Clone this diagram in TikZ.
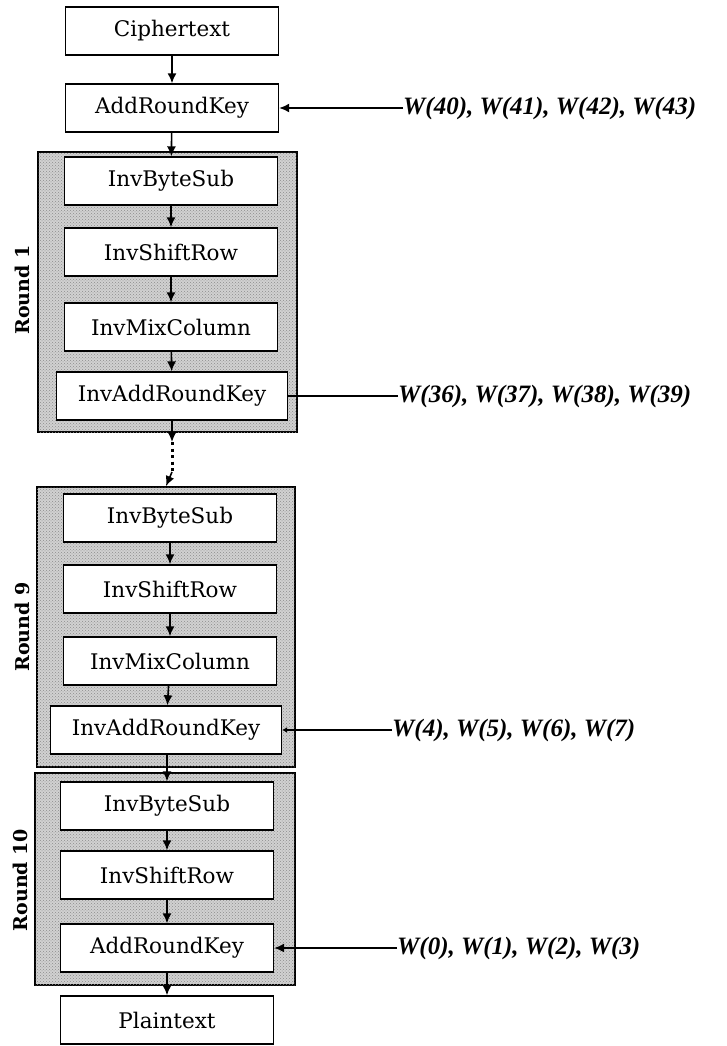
\documentclass[tikz,border=0pt]{standalone}
\usepackage{fontspec}
\newfontfamily\keyfont{Liberation Serif}
\newfontfamily\stagefont{DejaVu Serif}
\usetikzlibrary{arrows.meta, positioning, backgrounds, patterns}

\begin{document}
\begin{tikzpicture}[
    x=1pt, y=-1pt,
    >={Latex[length=10pt, width=9pt]},
    stage/.style={
        draw=black, line width=1.4pt, fill=white,
        minimum width=213pt, minimum height=48pt,
        inner sep=0pt, font=\stagefont\fontsize{21.5}{25}\selectfont
    },
    widestage/.style={
        stage, minimum width=231pt
    },
    roundbox/.style={
        draw=black, line width=1.8pt, fill=black!18,
        postaction={pattern=crosshatch dots, pattern color=black!45},
        inner sep=0pt
    },
    roundlabel/.style={
        rotate=90, font=\stagefont\fontsize{19}{22}\selectfont\bfseries
    },
    keylabel/.style={
        anchor=west, inner sep=0pt,
        font=\keyfont\fontsize{25}{28}\selectfont\bfseries\itshape
    },
    flow/.style={->, line width=1.6pt},
    keyline/.style={line width=1.6pt},
]
\useasboundingbox (0,0) rectangle (727,1046);

% ===================================================================
% INITIAL KEY ADDITION
% ===================================================================
\node[stage] (cipher) at (172,31) {Ciphertext};
\node[stage] (ark0) at (172,108) {AddRoundKey};
\node[keylabel] (key0) at (403,108) {W(40), W(41), W(42), W(43)};

% ===================================================================
% ROUND 1
% ===================================================================
\node[stage] (bs1) at (171,181) {InvByteSub};
\node[stage] (sr1) at (171,252) {InvShiftRow};
\node[stage] (mc1) at (171,327) {InvMixColumn};
\node[widestage] (ark1) at (172,396) {InvAddRoundKey};
\node[keylabel] (key1) at (398,396) {W(36), W(37), W(38), W(39)};
\begin{scope}[on background layer]
    \node[roundbox, minimum width=259pt, minimum height=280pt] (round1) at (167.5,292) {};
\end{scope}
\node[roundlabel] (lbl1) at (22,290) {Round 1};

% gap between round 1 and round 9
\coordinate (dotA) at (172,442);
\coordinate (dotB) at (172,472);

% ===================================================================
% ROUND 9
% ===================================================================
\node[stage] (bs9) at (170,518) {InvByteSub};
\node[stage] (sr9) at (170,589) {InvShiftRow};
\node[stage] (mc9) at (170,661) {InvMixColumn};
\node[widestage] (ark9) at (166,730) {InvAddRoundKey};
\node[keylabel] (key9) at (392,730) {W(4), W(5), W(6), W(7)};
\begin{scope}[on background layer]
    \node[roundbox, minimum width=258pt, minimum height=280pt] (round9) at (166,627) {};
\end{scope}
\node[roundlabel] (lbl9) at (22,627) {Round 9};

% ===================================================================
% ROUND 10
% ===================================================================
\node[stage] (bs10) at (167,806) {InvByteSub};
\node[stage] (sr10) at (167,875) {InvShiftRow};
\node[stage] (ark10) at (167,948) {AddRoundKey};
\node[keylabel] (key10) at (397,948) {W(0), W(1), W(2), W(3)};
\begin{scope}[on background layer]
    \node[roundbox, minimum width=260pt, minimum height=212pt] (round10) at (165,879) {};
\end{scope}
\node[roundlabel] (lbl10) at (20,880) {Round 10};

\node[stage] (plain) at (167,1020) {Plaintext};

% Edges
\draw[flow] (cipher) -- (ark0);
\draw[flow] (ark0) -- (bs1);
\draw[flow] (bs1) -- (sr1);
\draw[flow] (sr1) -- (mc1);
\draw[flow] (mc1) -- (ark1);
\draw[flow] (ark1) -- (dotA);
\draw[line width=3pt, dash pattern=on 3pt off 3.5pt] (dotA) -- (dotB);
\draw[flow] (dotB) -- (round9.north);
\draw[flow] (bs9) -- (sr9);
\draw[flow] (sr9) -- (mc9);
\draw[flow] (mc9) -- (ark9);
\draw[flow] (ark9.south -| bs10) -- (bs10);
\draw[flow] (bs10) -- (sr10);
\draw[flow] (sr10) -- (ark10);
\draw[flow] (ark10) -- (plain);

% Round keys
\draw[flow] (key0.west) -- (ark0.east);
\draw[keyline] (key1.west) -- (ark1.east);
\draw[keyline, -{Latex[length=5pt, width=6pt]}] (key9.west) -- (ark9.east);
\draw[flow] (key10.west) -- (ark10.east);

\end{tikzpicture}
\end{document}
